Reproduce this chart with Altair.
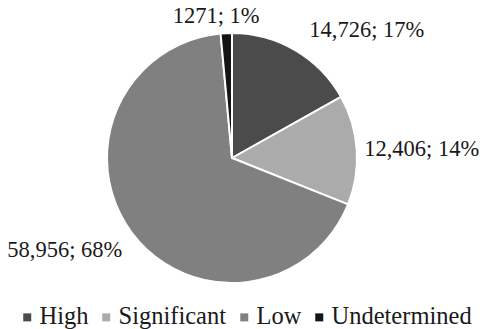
import altair as alt
import pandas as pd

# Risk categories and their counts
categories = ["High", "Significant", "Low", "Undetermined"]
counts = [14726, 12406, 58956, 1271]
labels = ["14,726; 17%", "12,406; 14%", "58,956; 68%", "1271; 1%"]
shades = ["#4b4b4b", "#ababab", "#808080", "#141414"]

df = pd.DataFrame({
    "category": categories,
    "count": counts,
    "label": labels,
    "rank": list(range(len(categories))),
})

FONT = "Liberation Serif"
INK = "#1a1a1a"

base = alt.Chart(df).encode(
    theta=alt.Theta("count:Q", stack=True),
    order=alt.Order("rank:Q"),
)

pie = base.mark_arc(outerRadius=125, stroke="white", strokeWidth=2).encode(
    color=alt.Color(
        "category:N",
        sort=categories,
        scale=alt.Scale(domain=categories, range=shades),
        legend=alt.Legend(
            title=None,
            orient="none",
            direction="horizontal",
            legendX=15,
            legendY=305,
            symbolType="square",
            symbolSize=64,
            symbolStrokeWidth=0,
            labelFont=FONT,
            labelFontSize=24.5,
            labelColor=INK,
            labelOffset=0,
            columnPadding=5,
        ),
    )
)


def slice_label(cat, dx, dy):
    # one text layer per slice so each label can sit where it reads best
    return base.transform_calculate(
        shown=f"datum.category == '{cat}' ? datum.label : ''"
    ).mark_text(
        radius=150,
        dx=dx,
        dy=dy,
        align="center",
        baseline="alphabetic",
        font=FONT,
        fontSize=22.5,
        color=INK,
    ).encode(text="shown:N")


chart = alt.layer(
    pie,
    slice_label("High", 59, 8),
    slice_label("Significant", 40, 8),
    slice_label("Low", -47, 9),
    slice_label("Undetermined", -9, 15),
).properties(
    width=464,
    height=316,
    padding={"left": 0, "top": 0, "right": 16, "bottom": 13},
    autosize=alt.AutoSizeParams(type="none"),
    background="white",
).configure_view(stroke=None)

chart.save("out.html", embed_options={"renderer": "svg", "actions": False})
